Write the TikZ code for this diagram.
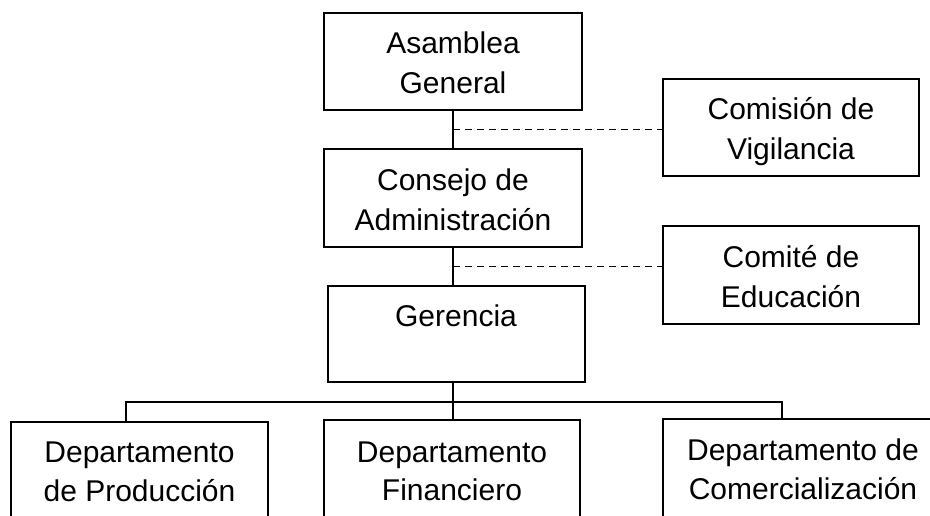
\documentclass[tikz,border=0pt]{standalone}
\usepackage{fontspec}
\setmainfont{Liberation Sans}
\usetikzlibrary{calc}
\begin{document}
\begin{tikzpicture}[x=1pt,y=-1pt,
  box/.style={draw,line width=1.2pt,inner sep=0pt,rectangle},
  txt/.style={font=\fontsize{30}{40}\selectfont,inner sep=0pt,anchor=base},
  link/.style={line width=1.2pt},
  dlink/.style={line width=1.2pt,dash pattern=on 7pt off 5pt}]
\useasboundingbox (0,0) rectangle (930,515);
\fill[white] (0,0) rectangle (930,515);
\clip (0,0) rectangle (930,515);
% boxes
\node[box,minimum width=258pt,minimum height=97pt] (ag) at (453,61.5) {};
\node[box,minimum width=258pt,minimum height=98pt] (ca) at (453,198) {};
\node[box,minimum width=257pt,minimum height=96pt] (ger) at (456.5,334) {};
\node[box,minimum width=256pt,minimum height=97pt] (cv) at (791,127.5) {};
\node[box,minimum width=256pt,minimum height=98pt] (ce) at (791,275) {};
\node[box,minimum width=257pt,minimum height=178pt] (d1) at (139.5,511) {};
\node[box,minimum width=256pt,minimum height=180pt] (d2) at (452,510) {};
\node[box,minimum width=297pt,minimum height=181pt] (d3) at (811.5,509.5) {};
% texts
\node[txt] (ag1) at (453,53) {Asamblea};
\node[txt] (ag2) at (453,93.5) {General};
\node[txt] (ca1) at (453,190) {Consejo de};
\node[txt] (ca2) at (453,230) {Administración};
\node[txt] (ger1) at (456,326) {Gerencia};
\node[txt] (cv1) at (791,119) {Comisión de};
\node[txt] (cv2) at (791,159) {Vigilancia};
\node[txt] (ce1) at (791,267) {Comité de};
\node[txt] (ce2) at (791,307) {Educación};
\node[txt] (d1a) at (139.5,462) {Departamento};
\node[txt] (d1b) at (139.5,501) {de Producción};
\node[txt] (d2a) at (452,462) {Departamento};
\node[txt] (d2b) at (452,500) {Financiero};
\node[txt] (d3a) at (803,460) {Departamento de};
\node[txt] (d3b) at (803,499) {Comercialización};
% connectors
\draw[link] (ag.south) -- (ca.north);
\draw[link] (ca.south) -- (ca.south |- ger.north);
\draw[link] (ca.south |- ger.south) -- (ca.south |- d2.north);
\coordinate (j1) at ($(ag.south)!0.5!(ca.north)$);
\coordinate (j2) at ($(ca.south)!0.5!(ca.south |- ger.north)$);
\draw[dlink] (j1) -- (j1 -| cv.west);
\draw[dlink] (j2) -- (j2 -| ce.west);
\coordinate (b1) at (126,402);
\coordinate (b3) at (782,402);
\draw[link] (b1 |- d1.north) -- (b1) -- (b3) -- (b3 |- d3.north);
\end{tikzpicture}
\end{document}
